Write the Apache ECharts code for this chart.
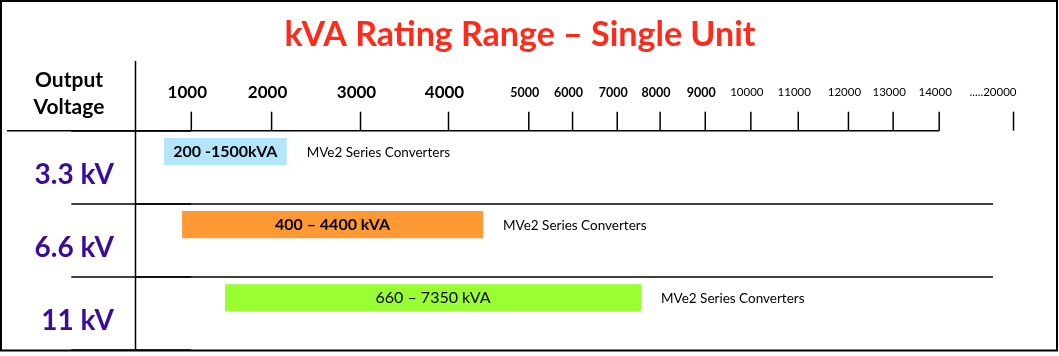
<!DOCTYPE html>
<html>
<head>
<meta charset="utf-8">
<script src="https://cdn.jsdelivr.net/npm/echarts@6/dist/echarts.min.js"></script>
<style>
html,body{margin:0;padding:0;background:#fff;}
#chart{width:1059px;height:356px;}
</style>
</head>
<body>
<div id="chart"></div>
<script>
// ---- data ----
const categories = ['3.3 kV', '6.6 kV', '11 kV'];
// where each bar starts / ends on the (schematic) kVA axis, as drawn
const rangeStart = [660, 885, 1420];
const rangeEnd = [2170, 4430, 7555];
const rangeLabels = ['200 -1500kVA', '400 – 4400 kVA', '660 – 7350 kVA'];
const notes = ['MVe2 Series Converters', 'MVe2 Series Converters', 'MVe2 Series Converters'];
const tickValues = [1000, 2000, 3000, 4000, 5000, 6000, 7000, 8000, 9000, 10000, 11000, 12000, 13000, 14000, 20000];
const tickLabels = ['1000', '2000', '3000', '4000', '5000', '6000', '7000', '8000', '9000', '10000', '11000', '12000', '13000', '14000', '.....20000'];
// the reference's uneven kVA scale: where each tick value sits on the axis (axis units)
const tickScale = [0, 1.76, 3.71, 5.64, 7.40, 8.36, 9.34, 10.28, 11.27, 12.27, 13.31, 14.41, 15.39, 16.40, 18.03];

// ---- styles ----
const FONT = 'Lato, "Noto Sans", sans-serif';
const barColors = ['#b3e5fb', '#ff9933', '#99ff33'];
const LINE = '#000';

function kvaToUnit(v) {
  const n = tickValues.length;
  let i = 0;
  if (v <= tickValues[0]) i = 0;
  else if (v >= tickValues[n - 1]) i = n - 2;
  else { while (v > tickValues[i + 1]) i++; }
  const t = (v - tickValues[i]) / (tickValues[i + 1] - tickValues[i]);
  return tickScale[i] + t * (tickScale[i + 1] - tickScale[i]);
}

const chart = echarts.init(document.getElementById('chart'));

function renderTick(params, api) {
  const i = api.value(2);
  const v = tickValues[i];
  const cs = params.coordSys;
  const x = api.coord([api.value(0), 0])[0];
  const y0 = cs.y;
  const children = [{
    type: 'line', shape: { x1: x, y1: y0 - 19, x2: x, y2: y0 },
    style: { stroke: LINE, lineWidth: 1.5 }
  }];
  const label = tickLabels[i];
  const isBreak = label.charAt(0) === '.';
  if (!isBreak) {
    const xPrev = i === 0 ? cs.x - 128 : api.coord([kvaToUnit(tickValues[i - 1]), 0])[0];
    children.push({
      type: 'line', shape: { x1: xPrev, y1: y0, x2: x, y2: y0 },
      style: { stroke: LINE, lineWidth: 1.5 }
    });
  }
  let font, dy;
  if (v < 5000) { font = 'bold 17px ' + FONT; dy = -38.5; }
  else if (v < 10000) { font = 'bold 12.5px ' + FONT; dy = -38; }
  else { font = '11.5px ' + FONT; dy = -38; }
  children.push({
    type: 'text',
    style: {
      x: isBreak ? x + 3 : x - 4, y: y0 + dy,
      text: label, font: font, fill: '#000',
      align: isBreak ? 'right' : 'center', verticalAlign: 'middle'
    }
  });
  return { type: 'group', children: children };
}

function renderBar(params, api) {
  const i = api.value(2);
  const p0 = api.coord([api.value(0), i]);
  const p1 = api.coord([api.value(1), i]);
  const band = api.size([0, 1])[1];
  const top = p0[1] - band * 0.40;
  const h = band * 0.37;
  return {
    type: 'group',
    children: [
      { type: 'rect', shape: { x: p0[0], y: top, width: p1[0] - p0[0], height: h },
        style: { fill: barColors[i] } },
      { type: 'text', style: {
          x: (p0[0] + p1[0]) / 2, y: top + h / 2, text: rangeLabels[i],
          font: (i < 2 ? 'bold ' : '') + '16px ' + FONT, fill: '#000',
          align: 'center', verticalAlign: 'middle' } },
      { type: 'text', style: {
          x: p1[0] + 20, y: top + h / 2 + 1, text: notes[i],
          font: '13.5px ' + FONT, fill: '#000',
          align: 'left', verticalAlign: 'middle' } }
    ]
  };
}

chart.setOption({
  animation: false,
  backgroundColor: '#fff',
  title: {
    text: 'kVA Rating Range – Single Unit',
    left: 515, top: 13, textAlign: 'center',
    textStyle: { color: '#ff2a1a', fontSize: 34, fontWeight: 'bold', fontFamily: FONT }
  },
  grid: { left: 135, right: 66, top: 130.7, bottom: 6 },
  xAxis: { type: 'value', min: -1.235, max: 17.58, show: false },
  yAxis: {
    type: 'category', inverse: true, data: categories,
    axisLine: { show: false },
    axisTick: { show: true, length: 120, lineStyle: { color: LINE, width: 1.5 } },
    axisLabel: {
      margin: 21, fontSize: 28, fontWeight: 'bold', fontFamily: FONT,
      color: '#3a0c9c', verticalAlign: 'top', lineHeight: 16
    },
    splitLine: { show: true, showMinLine: false, showMaxLine: false,
      lineStyle: { color: LINE, width: 1.5 } }
  },
  graphic: [
    { type: 'rect', shape: { x: 1, y: 1, width: 1056, height: 349.5 },
      style: { fill: 'none', stroke: LINE, lineWidth: 2 }, silent: true, z: 100 },
    { type: 'line', shape: { x1: 135.5, y1: 61, x2: 135.5, y2: 350 },
      style: { stroke: LINE, lineWidth: 1.5 }, z: 100 },
    { type: 'text', style: { x: 69, y: 80, text: 'Output', font: 'bold 21px ' + FONT,
      fill: '#000', align: 'center', verticalAlign: 'middle' } },
    { type: 'text', style: { x: 69, y: 107, text: 'Voltage', font: 'bold 21px ' + FONT,
      fill: '#000', align: 'center', verticalAlign: 'middle' } }
  ],
  series: [
    {
      type: 'custom', name: 'ticks', renderItem: renderTick, clip: false,
      encode: { x: 0, y: 1 },
      data: tickValues.map((v, i) => [kvaToUnit(v), 0, i])
    },
    {
      type: 'custom', name: 'ranges', renderItem: renderBar, clip: false,
      encode: { x: [0, 1], y: 2 },
      data: categories.map((c, i) => [kvaToUnit(rangeStart[i]), kvaToUnit(rangeEnd[i]), i])
    }
  ]
});
</script>
</body>
</html>
